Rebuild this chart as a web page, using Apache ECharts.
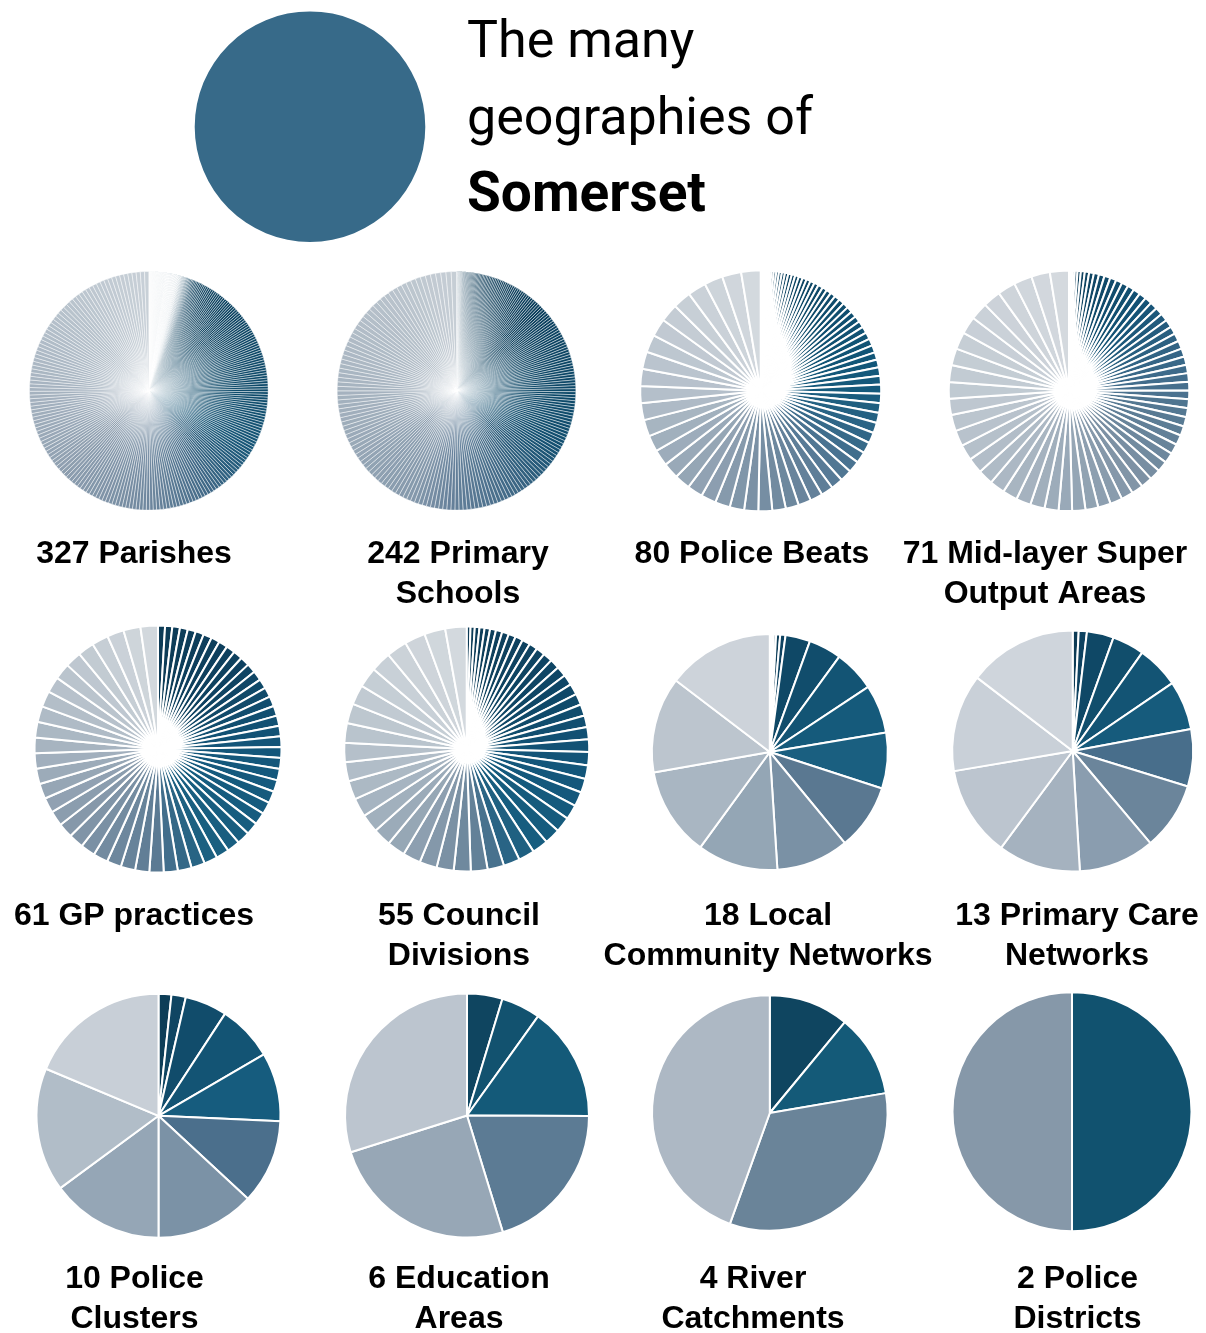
<!DOCTYPE html>
<html><head><meta charset="utf-8">
<script src="https://cdn.jsdelivr.net/npm/echarts@6/dist/echarts.min.js"></script>
<style>html,body{margin:0;padding:0;background:#fff}#c{width:1206px;height:1333px}</style>
</head><body><div id="c"></div>
<script>
// ---- text ----
const titleLines = ['The many', 'geographies of', 'Somerset'];
const labels = [
  '327 Parishes', '242 Primary\nSchools', '80 Police Beats', '71 Mid-layer Super\nOutput Areas',
  '61 GP practices', '55 Council\nDivisions', '18 Local\nCommunity Networks', '13 Primary Care\nNetworks',
  '10 Police\nClusters', '6 Education\nAreas', '4 River\nCatchments', '2 Police\nDistricts'
];
// ---- values (relative sizes of each area, sorted ascending) ----
const somerset = [1];
const parishes = [
  3,3,4,4,4,5,5,5,5,6, 6,6,7,7,7,8,8,8,8,9, 9,9,10,10,10,10,11,11,11,12, 12,12,12,13,13,13,14,14,14,14,
  15,15,15,16,16,16,16,17,17,17, 18,18,18,19,19,19,20,20,20,21, 21,21,22,22,22,23,23,23,24,24,
  24,25,25,25,26,26,26,27,27,27, 28,28,28,29,29,29,30,30,30,30, 31,32,
  34,37,39,42,44,47,49,51,55,57,59,63,65,67,71,73,75,79,81,84,86,88,92,94,97,99,
  100,101,102,102,103,104,105,105,106,107, 108,108,109,110,111,111,112,113,114,114,
  115,116,117,117,118,119,120,120,121,122, 123,123,124,125,126,126,127,128,129,129,
  130,131,132,132,133,134,134,135,136,136,137,
  137,138,138,139,140,140,141,142,142,143, 144,144,145,146,146,147,148,148,149,150,
  150,151,152,152,153,154,154,155,156,156, 157,158,158,159,160,160,161,162,162,163,
  164,164,165,165,166,166,167,167,168,168, 168,169,169,170,170,170,171,171,171,172,
  172,172,173,173,173,174,174,174,175,175, 175,175,176,176,176,177,177,177,177,178,
  178,178,178,179,179,179,179,180,180,180, 180,181,181,181,181,182,182,182,182,183,
  183,183,183,184,184,184,185,185,185,186,186,
  186,187,187,188,188,189,189,190,190,191, 191,192,192,193,193,194,194,195,195,196,
  196,197,197,198,198,199,199,200,200,201, 201,202,202,203,203,204,204,205,205,206,
  206,207,208,209,210,211,212
];
const primarySchools = [
  8,9,10,11,12,12,13,14,15,16,17,17,18,19,20,21,22,23,24,
  30,32,34,36,38,40,42,44,46,48, 50,52,54,56,58,60,62,64,66,68, 70,71,73,74,76,77,79,80,82,83,
  85,86,88,89,91,92,94,95,97,98, 100,101,103,104,106,107,109,110,112,113, 115,116,118,119,120,
  121,122,122,123,124,125,125,126,127,128, 128,129,130,131,131,132,133,134,134,135,
  136,137,137,138,139,140,140,141,142,143, 143,144,145,146,146,
  147,148,150,150,151,153,153,154,156,156, 157,159,159,160,162,162,163,165,165,166,
  168,168,169,171,171,172,174,174,175,177, 177,178,180,180,181,183,183,184,186,186,
  187,189,189,190,192,192,193,195,195,196, 198,198,199,
  200,200,201,201,202,202,203,203,204,204, 205,205,206,206,207,207,208,208,209,209,
  210,210,211,211,212,212,213,213,214,214, 215,215,216,216,217,217,218,218,219,219, 220,220,221,
  222,223,224,225,226,227,228,229,230,231, 232,233,234,235,236,237,238,239,240,241,
  242,243,244,245,246,247,248,249,250,251, 252,253,254,255,256,257,259
];
const policeBeats = [
  3,4,5,6,7,8,9,10,11,12, 13,14,15,16,17,17,18,19,20,20, 21,22,23,23,24,25,26,27,27,28,
  29,30,31,32,33,34,35,36,38,40, 42,44,
  45,47,49,50,52,53,55,56,57,58,59,60,62,63,65,67,
  68,70,72,73,75,76,77,78,79,80,81,82,83,84,85,86,87,88,89,90,92,94
];
const msoas = [
  4,6,8,10,13,16,19,21,23,25, 27,29,30,31,32,33,34,35,35,36, 37,37,38,38,39,39,40,40,41,41, 42,42,43,
  44,45,46,48,49,50,52,53,55,56,58,59,61,62,64,65,
  68,70,71,72,73,74,75,76,77,78,79,80,81,82,83,84,85,86,87,88,90,92
];
const gpPractices = [
  33,34,36,37,38,39,40,41,42,42,43,44,44,45,45,46,47,47,48,49,50,
  51,52,54,55,56,57,58,59,60,61,62,63,64,65,66,
  67,67,68,68,69,69,70,70,71,71,72,72,73,73,74,74,75,75,76,76,77,78,79,80,82
];
const councilDivisions = [
  18,20,22,24,26,28,30,32,34,36,38,40,42,44,46,48,50,52,53,54,55,
  57,60,62,64,66,68,70,72,74,75,76,77,78,79,
  80,81,82,84,85,86,87,88,89,90,91,92,93,94,95,96,97,98,99,101
];
const localCommunityNetworks = [0.4,0.5,0.5,0.6,1.1,2.0,2.6,12.2,16.2,20.4,24.0,27.5,32.5,35.8,39.8,43.9,47.3,52.7];
const primaryCareNetworks = [0.8,1.1,3.6,4.3,5.7,6.6,7.7,9.1,10.2,11.1,12.2,13.1,14.6];
const policeClusters = [1.7,1.9,5.6,7.4,9.1,11.2,13.1,14.9,16.4,18.7];
const educationAreas = [4.7,5.2,15.2,20.2,24.9,29.9];
const riverCatchments = [11.0,11.3,33.2,44.5];
const policeDistricts = [50,50];

// ---- styling ----
function hexToRgb(h){h=h.replace('#','');return [0,2,4].map(i=>parseInt(h.substr(i,2),16));}
function rgbToHex(c){return '#'+c.map(v=>Math.round(v).toString(16).padStart(2,'0')).join('');}
function colorAt(stops,t){
  for(let k=0;k<stops.length-1;k++){
    const a=stops[k],b=stops[k+1];
    if(t>=a[0]&&t<=b[0]){
      const f=(b[0]===a[0])?0:(t-a[0])/(b[0]-a[0]);
      const ca=hexToRgb(a[1]),cb=hexToRgb(b[1]);
      return rgbToHex(ca.map((v,i)=>v+(cb[i]-v)*f));
    }
  }
  return stops[stops.length-1][1];
}
function gradientColors(n,stops){const out=[];for(let i=0;i<n;i++){out.push(colorAt(stops,n===1?0:i/(n-1)));}return out;}

const pies = [
  {data:parishes, c:[148.8,390.8], r:119.3, bw:0.45, thin:true, colors:gradientColors(parishes.length,[[0,'#0a3550'],[0.36,'#0b405e'],[0.52,'#0d4a6a'],[0.58,'#175677'],[0.64,'#3f6886'],[0.70,'#6f879e'],[0.78,'#8d9eaf'],[0.86,'#a6b3c0'],[0.93,'#b7c2cc'],[1,'#c8d0d7']])},
  {data:primarySchools, c:[456.5,390.8], r:119.3, bw:0.45, colors:gradientColors(primarySchools.length,[[0,'#0a3550'],[0.3,'#0a3e5c'],[0.45,'#0c4868'],[0.52,'#124f70'],[0.59,'#3a6583'],[0.67,'#65809a'],[0.71,'#8498ab'],[0.85,'#a7b4c0'],[0.95,'#b9c3cc'],[1,'#c6ced5']])},
  {data:policeBeats, c:[760.7,390.8], r:120.5, bw:2, colors:gradientColors(policeBeats.length,[[0,'#0c3a54'],[0.35,'#0f4d6d'],[0.52,'#145a7c'],[0.59,'#336888'],[0.62,'#4a7391'],[0.67,'#64819a'],[0.73,'#7990a4'],[0.78,'#8fa1b2'],[0.84,'#a2b1be'],[0.87,'#b3bec9'],[0.95,'#c7cfd6'],[1,'#d3d9de']])},
  {data:msoas, c:[1069,390.8], r:120.3, bw:2, colors:gradientColors(msoas.length,[[0,'#0c3a54'],[0.25,'#135275'],[0.40,'#3d6a8a'],[0.50,'#5d7d95'],[0.58,'#7b90a3'],[0.67,'#95a6b5'],[0.76,'#adb9c4'],[0.86,'#c1cad2'],[0.93,'#cad1d8'],[1,'#d4d9de']])},
  {data:gpPractices, c:[158,749], r:123.5, bw:2, colors:gradientColors(gpPractices.length,[[0,'#0d3b56'],[0.18,'#0e4160'],[0.25,'#114b6b'],[0.35,'#13567a'],[0.45,'#165c7f'],[0.53,'#1a5f80'],[0.58,'#3d6b8a'],[0.6,'#5b7a93'],[0.72,'#8799ab'],[0.82,'#a8b5c1'],[0.92,'#bfc8d0'],[1,'#d2d8dd']])},
  {data:councilDivisions, c:[466.7,749], r:122.5, bw:2, colors:gradientColors(councilDivisions.length,[[0,'#0d3b56'],[0.31,'#0f4767'],[0.44,'#13567a'],[0.56,'#175d7f'],[0.6,'#2d6586'],[0.62,'#5d7d95'],[0.67,'#7d92a5'],[0.72,'#95a6b5'],[0.81,'#b0bcc7'],[0.91,'#c6ced5'],[1,'#d3d9de']])},
  {data:localCommunityNetworks, c:[769.8,752], r:118, bw:2, colors:['#0c3a54','#0c3a54','#0c3a54','#0c3a54','#0d3c56','#0d3d58','#0e4260','#0f4866','#114d6c','#135474','#155a7b','#1a5f80','#5a7891','#7a91a5','#94a6b5','#a9b6c2','#bcc5ce','#cdd3da']},
  {data:primaryCareNetworks, c:[1072.7,751], r:120.5, bw:2, colors:['#0d3b55','#0e4260','#0f4866','#114e6c','#135474','#165b7c','#486e8b','#6b859b','#8a9daf','#a5b2bf','#bcc5cf','#c9d0d8','#cfd5dc']},
  {data:policeClusters, c:[158.5,1115.8], r:122, bw:2, colors:['#0d3d57','#0f4562','#114c6b','#135474','#165c7e','#4b6f8c','#7b92a6','#95a6b6','#b1bdc8','#c8cfd7']},
  {data:educationAreas, c:[467,1115.5], r:122, bw:2, colors:['#0f4560','#12526f','#145a79','#5c7b94','#97a7b6','#bcc5cf']},
  {data:riverCatchments, c:[769.8,1113], r:117.8, bw:2, colors:['#0f4560','#145a78','#6a8499','#adb8c4']},
  {data:policeDistricts, c:[1072,1111.7], r:119.5, bw:2, colors:['#11526f','#8698a9']}
];

const series = [{
  type:'pie', center:[310,126.7], radius:115.3, startAngle:90, silent:true,
  label:{show:false}, labelLine:{show:false}, emphasis:{disabled:true},
  itemStyle:{color:'#376a89', borderWidth:0},
  data:somerset.map(v=>({value:v}))
}];
pies.forEach(p=>{
  const total = p.data.reduce((s,v)=>s+v,0);
  series.push({
    type:'pie', center:p.c, radius:p.r, startAngle:90, clockwise:true, silent:true,
    minAngle:0, avoidLabelOverlap:false,
    label:{show:false}, labelLine:{show:false}, emphasis:{disabled:true},
    itemStyle:{borderColor:'#ffffff', borderWidth:p.bw},
    data:p.data.map((v,i)=>{
      const ang = v/total*360;
      let bw = p.bw;
      if(p.thin){ bw = Math.max(p.bw, Math.min(1.1, 1.25 - ang*1.1)); }
      return {value:v, itemStyle:{color:p.colors[i], borderWidth:bw}};
    })
  });
});

const labelX = [134,458,752,1045, 134,459,768,1077, 134.5,459,753,1077.5];
const labelY = [554,554,554,554, 916,916,916,916, 1279,1279,1279,1279];
const graphics = labels.map((t,i)=>({
  type:'text', x:labelX[i], y:labelY[i]-20, silent:true,
  style:{text:t, fill:'#000', font:'bold 32px "Liberation Sans", Arial, sans-serif',
    align:'center', textAlign:'center', verticalAlign:'top', textVerticalAlign:'top', lineHeight:40}
}));
const titleY = [44,121,197];
const titleSize = [52,52,55];
titleLines.forEach((t,i)=>{
  graphics.push({type:'text', x:467, y:titleY[i], silent:true,
    style:{text:t, fill:'#000', font:(i===2?'bold ':'')+titleSize[i]+'px Roboto, "Liberation Sans", sans-serif',
      align:'left', textAlign:'left', verticalAlign:'middle', textVerticalAlign:'middle'}});
});

const chart = echarts.init(document.getElementById('c'), null, {renderer:'canvas', width:1206, height:1333});
chart.setOption({animation:false, backgroundColor:'#ffffff', series:series, graphic:graphics});
</script>
</body></html>
